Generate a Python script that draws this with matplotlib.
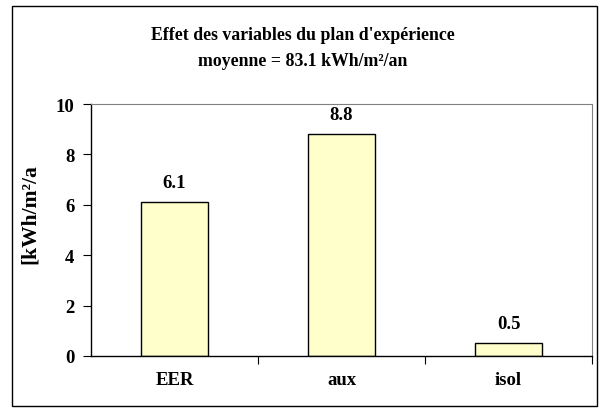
import matplotlib.pyplot as plt

categories = ["EER", "aux", "isol"]
effects = [6.1, 8.8, 0.5]
y_ticks = [0, 2, 4, 6, 8, 10]

plt.rcParams["font.family"] = "Liberation Serif"
plt.rcParams["font.weight"] = "bold"

W, H = 606, 410
fig = plt.figure(figsize=(W / 100, H / 100), dpi=100)

# cadre extérieur du graphique
fig.patches.append(plt.Rectangle((12 / W, 1 - 407 / H), 585 / W, 400 / H,
                                 transform=fig.transFigure, fill=False,
                                 edgecolor="black", linewidth=1.0))

ax = fig.add_axes([91 / W, 1 - 357 / H, (592 - 91) / W, (357 - 105) / H])

x = range(len(categories))
ax.bar(x, effects, width=0.4, color="#ffffcc", edgecolor="black", linewidth=1.0)

for xi, v in zip(x, effects):
    ax.annotate(f"{v:.1f}", xy=(xi, v), xytext=(0, 14.5), textcoords="offset points",
                ha="center", va="center", fontsize=13.5, fontweight="bold")

ax.set_xlim(-0.5, len(categories) - 0.5)
ax.set_ylim(0, 10)
ax.set_yticks(y_ticks)
ax.set_yticklabels([str(t) for t in y_ticks], fontsize=13.5, fontweight="bold")

# graduations de l'axe x aux limites des catégories
ax.set_xticks([0.5, 1.5, 2.5])
ax.set_xticklabels([])
ax.set_xticks(list(x), minor=True)
ax.set_xticklabels(categories, minor=True, fontsize=13.5, fontweight="bold")
ax.tick_params(axis="x", which="minor", length=0, pad=11)
ax.tick_params(axis="x", which="major", direction="out", length=6, width=0.8)
ax.tick_params(axis="y", direction="out", length=6, width=0.8, pad=6)

ax.spines["top"].set_color("#808080")
ax.spines["right"].set_color("#808080")
for side in ["left", "bottom"]:
    ax.spines[side].set_linewidth(1.0)

fig.text(0.5, 1 - 35 / H, "Effet des variables du plan d'expérience",
         ha="center", va="center", fontsize=12.8, fontweight="bold")
fig.text(0.5, 1 - 61 / H, "moyenne = 83.1 kWh/m²/an",
         ha="center", va="center", fontsize=12.8, fontweight="bold")

# étiquette de l'axe y (tronquée)
fig.text(30 / W, 1 - 214 / H, "[kWh/m²/a", rotation=90,
         ha="center", va="center", fontsize=15.5, fontweight="bold")

fig.savefig("out.png", dpi=100)
